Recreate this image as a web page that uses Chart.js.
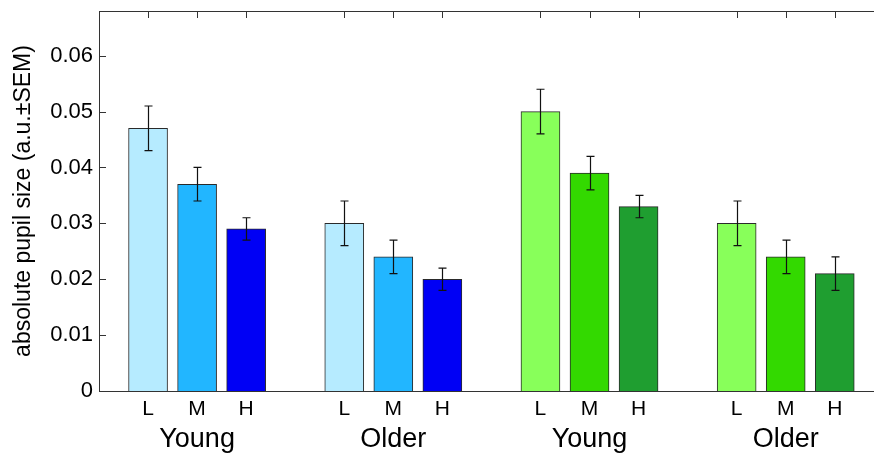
<!DOCTYPE html>
<html>
<head>
<meta charset="utf-8">
<script src="https://cdn.jsdelivr.net/npm/chart.js@4"></script>
<style>
  html, body { margin: 0; padding: 0; background: #fff; overflow: hidden; }
  #wrap { width: 874px; height: 460px; position: relative; }
</style>
</head>
<body>
<div id="wrap"><canvas id="c"></canvas></div>
<script>
// ---- data ----
const groups = ['Young', 'Older', 'Young', 'Older'];
const levels = ['L', 'M', 'H'];
const meanBlueYoung  = [0.047, 0.037, 0.029];
const semBlueYoung   = [0.004, 0.003, 0.002];
const meanBlueOlder  = [0.030, 0.024, 0.020];
const semBlueOlder   = [0.004, 0.003, 0.002];
const meanGreenYoung = [0.050, 0.039, 0.033];
const semGreenYoung  = [0.004, 0.003, 0.002];
const meanGreenOlder = [0.030, 0.024, 0.021];
const semGreenOlder  = [0.004, 0.003, 0.003];
const yTickValues = [0, 0.01, 0.02, 0.03, 0.04, 0.05, 0.06];
const yTitle = 'absolute pupil size (a.u.\u00b1SEM)';

// ---- build ----
const groupMeans = [meanBlueYoung, meanBlueOlder, meanGreenYoung, meanGreenOlder];
const groupSems  = [semBlueYoung, semBlueOlder, semGreenYoung, semGreenOlder];
const palettes = [
  ['#b6ebff', '#22b6ff', '#0000f5'],
  ['#b6ebff', '#22b6ff', '#0000f5'],
  ['#88ff5a', '#33d900', '#1f9e30'],
  ['#88ff5a', '#33d900', '#1f9e30']
];
const points = [], sems = [], colors = [];
const levelPos = [], groupPos = [];
groups.forEach((g, gi) => {
  groupPos.push(gi * 4 + 1);
  levels.forEach((l, li) => {
    const pos = gi * 4 + li;
    levelPos.push(pos);
    points.push({ x: pos, y: groupMeans[gi][li] });
    sems.push(groupSems[gi][li]);
    colors.push(palettes[gi][li]);
  });
});

const FONT = "'Liberation Sans', Arial, sans-serif";
const XMIN = -1, XMAX = 14.8;

const noPad = s => { s.paddingTop = 0; s.paddingBottom = 0; s.paddingLeft = 0; s.paddingRight = 0; };

const errorBars = {
  id: 'errorBars',
  afterDatasetsDraw(chart) {
    const meta = chart.getDatasetMeta(0);
    const ys = chart.scales.y;
    const ctx = chart.ctx;
    ctx.save();
    ctx.strokeStyle = '#111';
    ctx.lineWidth = 1.2;
    meta.data.forEach((bar, i) => {
      const m = points[i].y, s = sems[i];
      const x = Math.round(bar.x) + 0.5;
      const yT = ys.getPixelForValue(m + s);
      const yB = ys.getPixelForValue(m - s);
      ctx.beginPath();
      ctx.moveTo(x, yT); ctx.lineTo(x, yB);
      ctx.moveTo(x - 4, yT); ctx.lineTo(x + 4, yT);
      ctx.moveTo(x - 4, yB); ctx.lineTo(x + 4, yB);
      ctx.stroke();
    });
    // inward tick marks (MATLAB style)
    const ca = chart.chartArea;
    const xt = chart.scales.xTop;
    ctx.strokeStyle = '#333';
    ctx.lineWidth = 1;
    ctx.beginPath();
    xt.ticks.forEach(t => {
      const px = Math.round(xt.getPixelForValue(t.value)) + 0.5;
      ctx.moveTo(px, ca.top); ctx.lineTo(px, ca.top + 7);
    });
    ys.ticks.forEach(t => {
      const py = Math.round(ys.getPixelForValue(t.value)) + 0.5;
      ctx.moveTo(ca.left, py); ctx.lineTo(ca.left + 7, py);
    });
    ctx.stroke();
    ctx.restore();
  }
};

new Chart(document.getElementById('c'), {
  type: 'bar',
  data: {
    datasets: [{
      data: points,
      backgroundColor: colors,
      borderColor: '#2a2a2a',
      borderWidth: 1,
      barThickness: 39,
      xAxisID: 'x',
      yAxisID: 'y'
    }]
  },
  options: {
    responsive: true,
    maintainAspectRatio: false,
    animation: false,
    devicePixelRatio: 1,
    layout: { padding: 0 },
    plugins: { legend: { display: false }, tooltip: { enabled: false } },
    scales: {
      x: {
        type: 'linear', position: 'bottom', min: XMIN, max: XMAX, offset: false, weight: 0,
        afterBuildTicks: s => { s.ticks = levelPos.map(v => ({ value: v })); },
        afterFit: s => { s.height = 30; noPad(s); },
        ticks: {
          callback: v => levels[((v % 4) + 4) % 4] || '',
          color: '#000', font: { family: FONT, size: 21 }, padding: 6,
          autoSkip: false, maxRotation: 0
        },
        grid: { display: false, drawTicks: false, offset: false },
        border: { display: true, color: '#333', width: 1 }
      },
      x2: {
        type: 'linear', position: 'bottom', min: XMIN, max: XMAX, offset: false, weight: 1,
        afterBuildTicks: s => { s.ticks = groupPos.map(v => ({ value: v })); },
        afterFit: s => { s.height = 39; noPad(s); },
        ticks: {
          callback: (v) => groups[(v - 1) / 4] || '',
          color: '#000', font: { family: FONT, size: 27, lineHeight: 1 }, padding: 5,
          autoSkip: false, maxRotation: 0
        },
        grid: { display: false, drawTicks: false, offset: false },
        border: { display: false }
      },
      xTop: {
        type: 'linear', position: 'top', min: XMIN, max: XMAX, offset: false,
        afterBuildTicks: s => { s.ticks = levelPos.map(v => ({ value: v })); },
        afterFit: s => { s.height = 11; noPad(s); },
        ticks: { display: false },
        grid: { display: false, drawTicks: false, offset: false },
        border: { display: true, color: '#333', width: 1 }
      },
      y: {
        type: 'linear', position: 'left', min: 0, max: 0.068,
        afterBuildTicks: s => { s.ticks = yTickValues.map(v => ({ value: v })); },
        afterFit: s => { s.width = 99; noPad(s); },
        ticks: {
          callback: v => (v === 0 ? '0' : v.toFixed(2)),
          color: '#000', font: { family: FONT, size: 22 }, padding: 6
        },
        grid: { display: false, drawTicks: false },
        border: { display: true, color: '#333', width: 1 },
        title: {
          display: true, text: yTitle, color: '#000',
          font: { family: FONT, size: 23 }, padding: { top: 10, bottom: 0 }
        }
      }
    }
  },
  plugins: [errorBars]
});
</script>
</body>
</html>
